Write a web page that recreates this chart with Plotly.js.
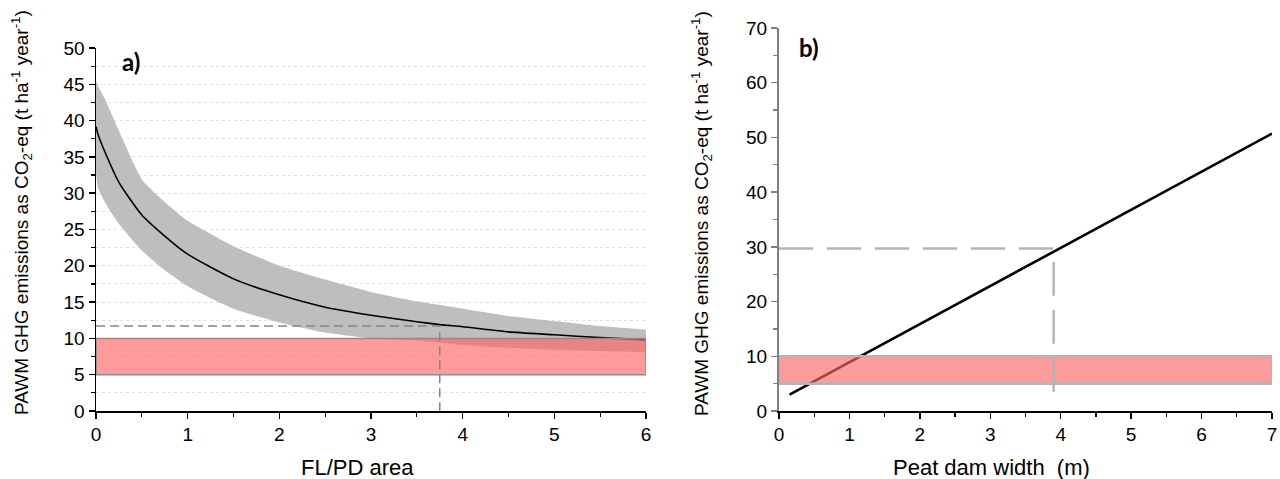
<!DOCTYPE html>
<html>
<head>
<meta charset="utf-8">
<script src="https://cdn.plot.ly/plotly-3.0.1.min.js"></script>
<style>html,body{margin:0;padding:0;background:#fff;}#chart{width:1280px;height:479px;}</style>
</head>
<body>
<div id="chart"></div>
<script>
// ---- Panel a data ----
const areaX     = [0, 0.02, 0.1, 0.25, 0.5, 0.75, 1, 1.5, 2, 2.5, 3, 3.5, 3.75, 4, 4.5, 5, 5.5, 6];
const areaMean  = [39.2, 38.2, 35.6, 31.5, 27.0, 24.1, 21.6, 18.2, 16.0, 14.3, 13.2, 12.3, 11.9, 11.6, 10.9, 10.5, 10.1, 9.8];
const areaUpper = [45.5, 44.8, 42.9, 38.6, 31.9, 28.8, 26.2, 22.7, 20.0, 18.1, 16.4, 15.1, 14.6, 14.1, 13.1, 12.4, 11.7, 11.2];
const areaLower = [33.0, 30.8, 28.7, 25.8, 22.1, 19.4, 17.2, 14.1, 12.2, 10.8, 10.0, 9.7, 9.4, 9.1, 8.7, 8.4, 8.25, 8.1];
const areaRefX  = 3.75;
const areaRefY  = 11.7;

// ---- Panel b data ----
const widthX    = [0.15, 7];
const widthY    = [3.0, 50.7];
const widthRefX = 3.9;
const widthRefY = 29.7;
const widthRefYBottom = 1.3;

// ---- Target band (both panels) ----
const bandLow  = 5;
const bandHigh = 10;
const rangeA = [0, 6];
const rangeB = [0, 7];

const redFill = 'rgba(255,101,101,0.65)';
const FONT = 'Liberation Sans, Arial, sans-serif';

function bandPoly(r) {
  return {x: [r[0], r[1], r[1], r[0], r[0]], y: [bandLow, bandLow, bandHigh, bandHigh, bandLow]};
}
const polyA = bandPoly(rangeA);
const polyB = bandPoly(rangeB);

const traces = [
  {x: areaX, y: areaLower, xaxis: 'x', yaxis: 'y', mode: 'lines', line: {width: 0, color: 'rgba(0,0,0,0)', shape: 'spline', smoothing: 0.5}, hoverinfo: 'skip', showlegend: false},
  {x: areaX, y: areaUpper, xaxis: 'x', yaxis: 'y', mode: 'lines', fill: 'tonexty', fillcolor: 'rgb(190,190,190)', line: {width: 0, color: 'rgba(0,0,0,0)', shape: 'spline', smoothing: 0.5}, hoverinfo: 'skip', showlegend: false},
  {x: areaX, y: areaMean, xaxis: 'x', yaxis: 'y', mode: 'lines', line: {color: '#000', width: 1.6, shape: 'spline', smoothing: 0.6}, showlegend: false},
  {x: polyA.x, y: polyA.y, xaxis: 'x', yaxis: 'y', mode: 'lines', fill: 'toself', fillcolor: redFill, line: {color: '#8c8c8c', width: 1.5}, showlegend: false},
  {x: [rangeA[0], areaRefX, areaRefX], y: [areaRefY, areaRefY, 0], xaxis: 'x', yaxis: 'y', mode: 'lines', line: {color: '#858585', width: 1.5, dash: '9px,5px'}, showlegend: false},

  {x: widthX, y: widthY, xaxis: 'x2', yaxis: 'y2', mode: 'lines', line: {color: '#000', width: 2.6}, showlegend: false},
  {x: polyB.x, y: polyB.y, xaxis: 'x2', yaxis: 'y2', mode: 'lines', fill: 'toself', fillcolor: redFill, line: {color: '#b4b4b4', width: 2.5}, showlegend: false},
  {x: [rangeB[0], widthRefX, widthRefX], y: [widthRefY, widthRefY, widthRefYBottom], xaxis: 'x2', yaxis: 'y2', mode: 'lines', line: {color: '#b4b4b4', width: 2.5, dash: '34px,14px'}, showlegend: false}
];

const tickFont = {family: FONT, size: 19, color: '#000'};
const yTitle = 'PAWM GHG emissions as CO<sub>2</sub>-eq (t ha<sup>-1</sup> year<sup>-1</sup>)';

const layout = {
  width: 1280, height: 479,
  margin: {l: 0, r: 0, t: 0, b: 0},
  paper_bgcolor: '#fff', plot_bgcolor: 'rgba(0,0,0,0)',
  showlegend: false,
  xaxis: {
    domain: [96/1280, 646/1280], range: rangeA, anchor: 'y',
    showline: true, linecolor: '#000', linewidth: 1.5, mirror: false,
    ticks: 'outside', ticklen: 6, tickwidth: 1.5, tickcolor: '#000', dtick: 1, tick0: 0,
    minor: {ticks: 'outside', ticklen: 4, tickwidth: 1.2, tickcolor: '#000', dtick: 0.5},
    showgrid: false, zeroline: false, tickfont: tickFont, automargin: false
  },
  yaxis: {
    domain: [(479-411)/479, (479-48)/479], range: [0, 50], anchor: 'x',
    showline: true, linecolor: '#000', linewidth: 1.5,
    ticks: 'outside', ticklen: 6, tickwidth: 1.5, tickcolor: '#000', dtick: 5, tick0: 0,
    minor: {ticks: 'outside', ticklen: 4, tickwidth: 1.2, tickcolor: '#000', dtick: 2.5, showgrid: true, gridcolor: '#e0e0e0', griddash: 'dot', gridwidth: 1},
    showgrid: true, gridcolor: '#e0e0e0', griddash: 'dot', gridwidth: 1,
    zeroline: false, tickfont: tickFont, automargin: false
  },
  xaxis2: {
    domain: [779/1280, 1272/1280], range: rangeB, anchor: 'y2',
    showline: true, linecolor: '#000', linewidth: 1.5,
    ticks: 'outside', ticklen: 6, tickwidth: 1.5, tickcolor: '#000', dtick: 1, tick0: 0,
    minor: {ticks: 'outside', ticklen: 4, tickwidth: 1.2, tickcolor: '#000', dtick: 0.5},
    showgrid: false, zeroline: false, tickfont: tickFont, automargin: false
  },
  yaxis2: {
    domain: [(479-411)/479, (479-28)/479], range: [0, 70], anchor: 'x2',
    showline: true, linecolor: '#808080', linewidth: 2,
    ticks: 'outside', ticklen: 6, tickwidth: 1.5, tickcolor: '#808080', dtick: 10, tick0: 0,
    minor: {ticks: 'outside', ticklen: 4, tickwidth: 1.2, tickcolor: '#808080', dtick: 5},
    showgrid: false, zeroline: false, tickfont: tickFont, automargin: false
  },
  annotations: [
    {text: yTitle, xref: 'paper', yref: 'paper', x: 21/1280, y: (479-213)/479, xanchor: 'center', yanchor: 'middle', textangle: -90, showarrow: false, font: {family: FONT, size: 19, color: '#000'}},
    {text: yTitle, xref: 'paper', yref: 'paper', x: 701/1280, y: (479-214)/479, xanchor: 'center', yanchor: 'middle', textangle: -90, showarrow: false, font: {family: FONT, size: 19, color: '#000'}},
    {text: 'FL/PD area', xref: 'paper', yref: 'paper', x: 357/1280, y: (479-467)/479, xanchor: 'center', yanchor: 'middle', showarrow: false, font: {family: FONT, size: 22, color: '#000'}},
    {text: 'Peat dam width&nbsp; (m)', xref: 'paper', yref: 'paper', x: 991/1280, y: (479-467)/479, xanchor: 'center', yanchor: 'middle', showarrow: false, font: {family: FONT, size: 22, color: '#000'}},
    {text: '<b>a)</b>', xref: 'paper', yref: 'paper', x: 131/1280, y: (479-62)/479, xanchor: 'center', yanchor: 'middle', showarrow: false, font: {family: 'Lato, Open Sans, sans-serif', size: 24, color: '#000'}},
    {text: '<b>b)</b>', xref: 'paper', yref: 'paper', x: 809/1280, y: (479-48)/479, xanchor: 'center', yanchor: 'middle', showarrow: false, font: {family: 'Lato, Open Sans, sans-serif', size: 24, color: '#000'}}
  ]
};

Plotly.newPlot('chart', traces, layout, {staticPlot: true, displayModeBar: false});
</script>
</body>
</html>
